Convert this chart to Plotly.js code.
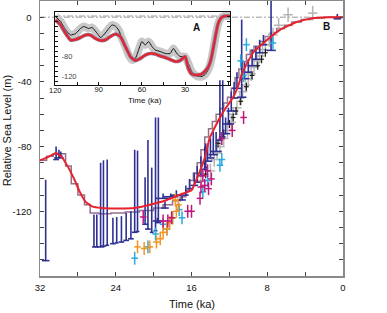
<!DOCTYPE html>
<html><head><meta charset="utf-8">
<script src="https://cdn.plot.ly/plotly-3.0.1.min.js"></script>
<style>html,body{margin:0;padding:0;background:#fff}#chart{width:387px;height:313px}</style>
</head><body><div id="chart"></div>
<script>
// ---- main panel (B): model curve ----
const modelAge = [32.5,32,31,30.3,29.7,29,28.4,27.8,27.2,26.5,25.5,24,22,20.4,18.6,16.9,16,15.1,14.6,14.1,13.7,12.7,11.6,11.1,10.6,9.5,8,6.7,4.9,3.2,1.4,0];
const modelRsl = [-89,-88.4,-86,-84,-86.5,-93,-100,-108,-114,-117,-118,-118.3,-118,-116,-113,-109,-107,-95,-87,-75,-70,-59,-49.5,-43,-34,-22,-14,-8,-3,-0.6,0,0];
// stepped curve
const stepAge = [32,31.3,30.6,29.3,28.7,28,27.3,26.7,25.8,24.5,23,21.5,20,19,18,17.2,16.6,16.2,15.8,15.4,15,14.6,14.2,13.8,13.4,13,12.6,12.2,11.8,11.4,11,10.6,10.2,9.8,9.4,8.8,8.2,7.6,7,6.2,5.4,4.4,3.4,2,0];
const stepRsl = [-88.5,-86,-84.5,-92,-103,-110,-116,-121,-121.5,-121,-120.5,-119.5,-118,-116,-113.5,-111,-107,-101,-96.5,-90,-82,-74,-69,-64.5,-60,-56.5,-53,-49.5,-44,-37.5,-32,-27.5,-23,-20.5,-18,-15,-12,-9.5,-7,-5,-3,-1.5,-0.5,0,0];
// navy bars: point (bottom), upward range, age error
const navyAge = [31.4,30.3,30.0,29.8,26.3,26.0,25.6,25.3,24.9,24.3,23.9,23.4,22.9,22.4,22.0,21.7,20.9,20.6,20.2,19.8,19.5,19.6,19.0,18.8,18.2,17.6,17.0,16.6,16.2,15.7,15.4,15.0,14.6,14.5,14.3,14.0,13.7,13.4,13.0,12.7,12.4,12.1,11.8,11.5,11.2,10.7,10.4,10.0,9.6,9.2,8.8,8.4,7.6,0.6];
const navyRsl = [-150.5,-88,-87,-86,-142,-142,-142,-141.5,-141,-140,-139.5,-139,-138,-137,-133,-132.5,-128,-131,-133,-132,-127,-126,-112,-118,-111,-110,-113,-110,-106,-104,-102,-98,-94,-93,-89,-87,-85,-83,-76,-74,-72,-66,-58,-50,-44,-49.5,-38,-34,-30,-26,-22,-17,-20.5,-1];
const navyUp = [50,8,5,3,20,20,52,53,53,16,16,16,17,17,51,50,29,55,40,70,65,2,3,4,2,3,4,6,6,8,10,12,14,15,10,12,14,12,37,35,10,10,12,10,10,48,10,8,10,8,8,6,31,3];
const navyErrX = [0.4,0.3,0.5,0.2,0.2,0.2,0.4,0.3,0.2,0.3,0.2,0.3,0.3,0.3,0.3,0.2,0.3,0.3,0.2,0.2,0.3,0.5,0.8,0.4,0.8,0.6,0.4,0.3,0.3,0.4,0.3,0.4,0.3,0.2,0.5,0.4,0.5,0.6,0.3,0.3,0.5,0.6,0.5,0.4,0.5,0.5,0.5,0.4,0.5,0.4,0.4,0.4,0.5,0.4];
// crosses
const grayAge = [15.0,14.0,13.6,13.3,13.0,12.6,12.2,11.8,11.6,11.2,10.9,10.6,10.3,10.0,9.7,9.4,9.1,8.8,8.5,8.2,7.8,7.4,6.8,5.8,3.2];
const grayRsl = [-101,-95,-88,-84,-80,-75,-70,-65,-60,-56,-50,-46,-42,-38,-35,-31,-27,-24,-20,-17,-14,-11,-5,1.5,2.5];
const blackAge = [14.5,13.2,12.6,12.0,11.6,11.3,10.8,10.2,9.6,9.0,8.6,8.2];
const blackRsl = [-97,-78,-72,-66,-62,-58,-52,-43,-36,-30,-26,-22];
const blueAge = [22.0,20.6,19.8,19.0,18.6,18.0,17.3,17.0,14.8,14.3,13.0,12.8,10.8,10.5,10.2,7.4];
const blueRsl = [-149,-142,-134,-128,-131,-124,-119,-124,-108,-101,-91.5,-88,-27,-36,-17,-16];
const orangeAge = [21.7,21.0,20.4,19.7,19.3,19.0,18.6,18.3,18.0,17.6,17.4,17.7];
const orangeRsl = [-142,-143,-142,-139,-137,-133,-131,-127,-124,-120,-116,-113];
const magentaAge = [21.1,19.0,18.5,18.1,16.4,16.0,15.1,15.0,14.6,14.2,14.8,14.3,13.9,12.8,11.7,10.5];
const magentaRsl = [-123.5,-126,-126,-124,-120,-120,-112,-105,-104,-106,-98,-95,-100,-75,-70,-62];
// ---- inset (A) ----
const insetBlackAge = [120,116.5,113,109.6,106,102.7,100.4,97,94.6,91,88.8,86.6,83,80.8,78.5,76.2,73.8,71.5,69.2,66.9,64.6,62.3,60,57.7,55.4,53,50.8,47.3,43.8,40.4,38.1,35.7,33.4,30,27.7,25.4,21.9,18.4,16.1,14,12.5,11.5,10.3,9.2,8.2,7.3,6.3,5,3.5,2,-1.2];
const insetBlackRsl = [-1,-11,-28,-38,-35,-25,-21,-25,-23,-35,-43,-38,-25,-18,-20,-28,-45,-61,-78,-88,-85,-68,-51,-58,-51,-61,-68,-71,-75,-75,-65,-75,-81,-81,-95,-111,-120,-121,-117,-108,-96,-84,-65,-47,-31,-19,-10,-4,-1,0,0];
const insetRedAge = [120,116.5,113,109.6,106,102.7,99.2,95.8,92.3,88.8,85.4,81.9,78.5,75,71.5,68,64.6,61.1,57.7,54.2,50.8,47.3,43.8,40.4,36.9,33.4,30,27.7,25.4,21.9,18.4,16.1,14,12.5,11.5,10.3,9.2,8.2,7.3,6.3,5,3.5,2,-1.2];
const insetRedRsl = [-8,-18,-35,-48,-47,-43,-38,-38,-45,-49,-48,-41,-36,-41,-61,-81,-89,-85,-78,-75,-76,-80,-83,-87,-91,-89,-81,-105,-116,-118,-116,-110,-103,-92,-80,-62,-45,-30,-18,-10,-4,-1,0,0];
// ticks
const xTickVals = [32,28,24,20,16,12,8,4,0];
const xTickText = ['32','','24','','16','','8','','0'];
const yTickVals = [0,-10,-20,-30,-40,-50,-60,-70,-80,-90,-100,-110,-120,-130,-140,-150];
const yTickText = ['0','','','','-40','','','','-80','','','','-120','','',''];
const ixTickVals = [120,105,90,75,60,45,30,15,0];
const ixTickText = ['','','90','','60','','30','',''];
const ixEdgeLabel = '120';
const iyTickVals = [0,-10,-20,-30,-40,-50,-60,-70,-80,-90,-100,-110,-120,-130];
const iyTickText = ['','','','','','','','','-80','','','','-120',''];

const FONT = 'Liberation Sans, Arial, Helvetica, sans-serif';
const NAVY = '#2e3192', RED = '#e8212b', MAUVE = '#94708f';

function crosses(x, y, color, ex, ey, th) {
  return {x: x, y: y, type: 'scatter', mode: 'markers', xaxis: 'x', yaxis: 'y',
    marker: {size: 1, color: color},
    error_x: {type: 'constant', value: ex, color: color, thickness: th, width: 0},
    error_y: {type: 'constant', value: ey, color: color, thickness: th, width: 0},
    showlegend: false, hoverinfo: 'skip'};
}

const traces = [
  {x: stepAge, y: stepRsl, type: 'scatter', mode: 'lines', line: {color: MAUVE, width: 1.5, shape: 'hv'}, xaxis: 'x', yaxis: 'y', showlegend: false},
  crosses(grayAge, grayRsl, '#b5b5b5', 0.5, 4.5, 1.5),
  crosses(blackAge, blackRsl, '#1a1a1a', 0.25, 2.5, 1.2),
  {x: navyAge, y: navyRsl, type: 'scatter', mode: 'markers', xaxis: 'x', yaxis: 'y',
    marker: {size: 1, color: NAVY},
    error_y: {type: 'data', symmetric: false, array: navyUp, arrayminus: navyUp.map(() => 0), color: NAVY, thickness: 1.6, width: 0},
    error_x: {type: 'data', array: navyErrX, color: NAVY, thickness: 1.6, width: 0},
    showlegend: false},
  crosses(blueAge, blueRsl, '#29abe2', 0.35, 4, 1.5),
  crosses(orangeAge, orangeRsl, '#f7941d', 0.35, 4, 1.5),
  crosses(magentaAge, magentaRsl, '#c1177c', 0.35, 4, 1.5),
  {x: modelAge, y: modelRsl, type: 'scatter', mode: 'lines', line: {color: RED, width: 2, shape: 'spline', smoothing: 0.4}, xaxis: 'x', yaxis: 'y', showlegend: false},
  // inset
  {x: insetBlackAge, y: insetBlackRsl, type: 'scatter', mode: 'lines', line: {color: '#c8c8c8', width: 8, shape: 'spline', smoothing: 0.5}, xaxis: 'x2', yaxis: 'y2', showlegend: false},
  {x: insetBlackAge, y: insetBlackRsl, type: 'scatter', mode: 'lines', line: {color: '#111', width: 1, shape: 'spline', smoothing: 0.5}, xaxis: 'x2', yaxis: 'y2', showlegend: false},
  {x: insetRedAge, y: insetRedRsl, type: 'scatter', mode: 'lines', line: {color: MAUVE, width: 3.6, shape: 'spline', smoothing: 0.5}, xaxis: 'x2', yaxis: 'y2', showlegend: false},
  {x: insetRedAge, y: insetRedRsl, type: 'scatter', mode: 'lines', line: {color: RED, width: 2, shape: 'spline', smoothing: 0.5}, xaxis: 'x2', yaxis: 'y2', showlegend: false}
];

const AX = '#8a8a8a';
const layout = {
  width: 387, height: 313,
  margin: {l: 40, r: 44, t: 1, b: 37, pad: 0},
  paper_bgcolor: '#fff', plot_bgcolor: 'rgba(0,0,0,0)',
  font: {family: FONT, size: 9.5, color: '#111'},
  showlegend: false,
  xaxis: {domain: [0, 1], range: [32, 0], tickmode: 'array', tickvals: xTickVals, ticktext: xTickText,
    ticks: 'inside', ticklen: 4, tickwidth: 1, tickcolor: '#444', showline: true, linecolor: AX, linewidth: 1.5,
    mirror: 'allticks', showgrid: false, zeroline: false, tickfont: {size: 9.5}, ticklabelstandoff: 2},
  yaxis: {domain: [0, 1], range: [-160, 10], tickmode: 'array', tickvals: yTickVals, ticktext: yTickText,
    ticks: 'inside', ticklen: 4, tickwidth: 1, tickcolor: '#444', showline: true, linecolor: AX, linewidth: 1.5,
    mirror: 'allticks', showgrid: false, zeroline: false, tickfont: {size: 9.5}, ticklabelstandoff: 5},
  xaxis2: {domain: [0.0495, 0.627], anchor: 'y2', range: [120.4, -1.2], tickmode: 'array', tickvals: ixTickVals, ticktext: ixTickText,
    ticks: 'inside', ticklen: 3, tickwidth: 1, tickcolor: '#111', showline: true, linecolor: '#111', linewidth: 1,
    mirror: true, showgrid: false, zeroline: false, tickfont: {size: 7.5}, ticklabelstandoff: -3},
  yaxis2: {domain: [0.6945, 0.96], anchor: 'x2', range: [-138, 8], tickmode: 'array', tickvals: iyTickVals, ticktext: iyTickText,
    ticks: 'inside', ticklen: 3, tickwidth: 1, tickcolor: '#111', showline: true, linecolor: '#111', linewidth: 1,
    mirror: 'allticks', showgrid: false, zeroline: false, tickfont: {size: 7.5}, ticklabelposition: 'inside', ticklabelstandoff: 2},
  shapes: [
    {type: 'line', xref: 'x', yref: 'y', x0: 32, x1: 0, y0: 0, y1: 0, layer: 'below', line: {color: '#9a9a9a', width: 1, dash: '6px,2px,2px,2px'}},
    {type: 'line', xref: 'x2', yref: 'y2', x0: 120.4, x1: -1.2, y0: 0, y1: 0, layer: 'below', line: {color: '#9a9a9a', width: 1, dash: '6px,2px,2px,2px'}}
  ],
  annotations: [
    {text: 'Relative Sea Level (m)', xref: 'paper', yref: 'paper', x: -0.109, y: 0.53, textangle: -90, showarrow: false, font: {size: 11}, xanchor: 'center', yanchor: 'middle'},
    {text: 'Time (ka)', xref: 'paper', yref: 'paper', x: 0.5, y: -0.1036, showarrow: false, font: {size: 11}, xanchor: 'center', yanchor: 'middle'},
    {text: ixEdgeLabel, xref: 'x2', yref: 'paper', x: 120, y: 0.675, showarrow: false, font: {size: 7.5}, xanchor: 'center', yanchor: 'middle'},
    {text: 'Time (ka)', xref: 'paper', yref: 'paper', x: 0.345, y: 0.6395, showarrow: false, font: {size: 8}, xanchor: 'center', yanchor: 'middle'},
    {text: '<b>A</b>', xref: 'paper', yref: 'paper', x: 0.518, y: 0.905, showarrow: false, font: {size: 10}, xanchor: 'center', yanchor: 'middle'},
    {text: '<b>B</b>', xref: 'paper', yref: 'paper', x: 0.944, y: 0.907, showarrow: false, font: {size: 10}, xanchor: 'center', yanchor: 'middle'}
  ]
};

Plotly.newPlot('chart', traces, layout, {staticPlot: true, displayModeBar: false});
</script></body></html>
